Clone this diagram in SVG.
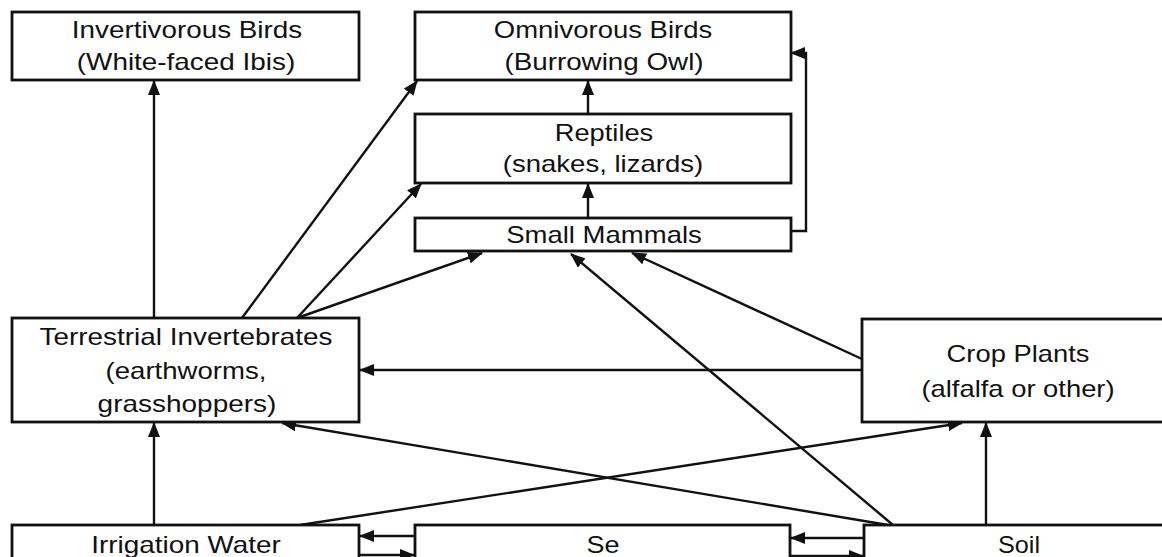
<svg xmlns="http://www.w3.org/2000/svg" width="1162" height="557" viewBox="0 0 1162 557">
<style>
.box{fill:#fff;stroke:#111;stroke-width:2.8}
.t{font-family:"Liberation Sans",Arial,sans-serif;font-size:23px;fill:#111;text-anchor:middle}
.c{fill:none;stroke:#111;stroke-width:2.4}
</style>
<defs>
<marker id="ah" markerUnits="userSpaceOnUse" markerWidth="15" markerHeight="12" refX="14" refY="6" orient="auto">
<path d="M0,0 L15,6 L0,12 z" fill="#111"/>
</marker>
</defs>
<rect width="1162" height="557" fill="#fff"/>
<g id="connectors">
<line class="c" x1="154" y1="318" x2="154" y2="81" marker-end="url(#ah)"/>
<line class="c" x1="242" y1="318" x2="417" y2="81" marker-end="url(#ah)"/>
<line class="c" x1="297" y1="318" x2="421" y2="184" marker-end="url(#ah)"/>
<line class="c" x1="297" y1="318" x2="482" y2="253" marker-end="url(#ah)"/>
<line class="c" x1="588" y1="218" x2="588" y2="184" marker-end="url(#ah)"/>
<line class="c" x1="588" y1="114" x2="588" y2="81" marker-end="url(#ah)"/>
<polyline class="c" points="791,231 806,231 806,53 791,53" marker-end="url(#ah)"/>
<line class="c" x1="862" y1="370" x2="360" y2="370" marker-end="url(#ah)"/>
<line class="c" x1="862" y1="359" x2="632" y2="253" marker-end="url(#ah)"/>
<line class="c" x1="893" y1="525" x2="571" y2="254" marker-end="url(#ah)"/>
<line class="c" x1="888" y1="525" x2="282" y2="423" marker-end="url(#ah)"/>
<line class="c" x1="300" y1="525" x2="962" y2="423" marker-end="url(#ah)"/>
<line class="c" x1="154" y1="525" x2="154" y2="423" marker-end="url(#ah)"/>
<line class="c" x1="986" y1="525" x2="986" y2="423" marker-end="url(#ah)"/>
<line class="c" x1="415" y1="536" x2="360" y2="536" marker-end="url(#ah)"/>
<line class="c" x1="359" y1="555" x2="414" y2="555" marker-end="url(#ah)"/>
<line class="c" x1="864" y1="538" x2="791" y2="538" marker-end="url(#ah)"/>
<line class="c" x1="790" y1="556" x2="863" y2="556" marker-end="url(#ah)"/>
</g>
<g id="invertivorous-birds">
<rect class="box" x="12" y="12" width="347" height="68"/>
<text class="t" transform="translate(187 38) scale(1.2 1)" textLength="192" lengthAdjust="spacingAndGlyphs">Invertivorous Birds</text>
<text class="t" transform="translate(186 70) scale(1.2 1)" textLength="182" lengthAdjust="spacingAndGlyphs">(White-faced Ibis)</text>
</g>
<g id="omnivorous-birds">
<rect class="box" x="415" y="12" width="376" height="68"/>
<text class="t" transform="translate(603 38) scale(1.2 1)" textLength="182" lengthAdjust="spacingAndGlyphs">Omnivorous Birds</text>
<text class="t" transform="translate(604 70) scale(1.2 1)" textLength="166" lengthAdjust="spacingAndGlyphs">(Burrowing Owl)</text>
</g>
<g id="reptiles">
<rect class="box" x="415" y="114" width="376" height="69"/>
<text class="t" transform="translate(604 141) scale(1.2 1)" textLength="82" lengthAdjust="spacingAndGlyphs">Reptiles</text>
<text class="t" transform="translate(603 172) scale(1.2 1)" textLength="167" lengthAdjust="spacingAndGlyphs">(snakes, lizards)</text>
</g>
<g id="small-mammals">
<rect class="box" x="415" y="218" width="376" height="33"/>
<text class="t" transform="translate(604 243) scale(1.2 1)" textLength="163" lengthAdjust="spacingAndGlyphs">Small Mammals</text>
</g>
<g id="terrestrial-invertebrates">
<rect class="box" x="12" y="318" width="347" height="104"/>
<text class="t" transform="translate(186 345) scale(1.2 1)" textLength="244" lengthAdjust="spacingAndGlyphs">Terrestrial Invertebrates</text>
<text class="t" transform="translate(186 379) scale(1.2 1)" textLength="134" lengthAdjust="spacingAndGlyphs">(earthworms,</text>
<text class="t" transform="translate(187 412) scale(1.2 1)" textLength="149" lengthAdjust="spacingAndGlyphs">grasshoppers)</text>
</g>
<g id="crop-plants">
<rect class="box" x="862" y="319" width="320" height="103"/>
<text class="t" transform="translate(1018 362) scale(1.2 1)" textLength="119" lengthAdjust="spacingAndGlyphs">Crop Plants</text>
<text class="t" transform="translate(1018 397) scale(1.2 1)" textLength="161" lengthAdjust="spacingAndGlyphs">(alfalfa or other)</text>
</g>
<g id="irrigation-water">
<rect class="box" x="12" y="525" width="347" height="50"/>
<text class="t" transform="translate(186 553) scale(1.2 1)" textLength="158" lengthAdjust="spacingAndGlyphs">Irrigation Water</text>
</g>
<g id="se">
<rect class="box" x="415" y="525" width="375" height="50"/>
<text class="t" transform="translate(603 553) scale(1.2 1)" textLength="27.5" lengthAdjust="spacingAndGlyphs">Se</text>
</g>
<g id="soil">
<rect class="box" x="864" y="525" width="320" height="50"/>
<text class="t" transform="translate(1019 553) scale(1.2 1)" textLength="35" lengthAdjust="spacingAndGlyphs">Soil</text>
</g>
</svg>
